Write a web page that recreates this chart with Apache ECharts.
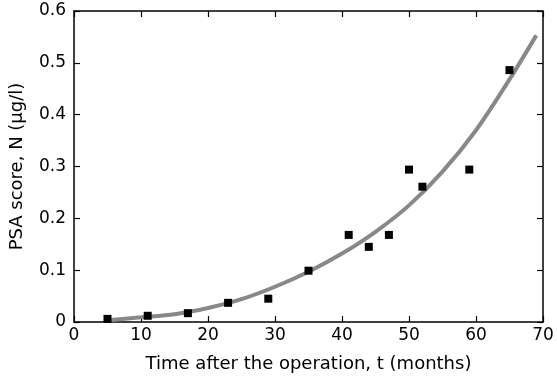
<!DOCTYPE html>
<html>
<head>
<meta charset="utf-8">
<script src="https://cdn.jsdelivr.net/npm/echarts@6/dist/echarts.min.js"></script>
<style>
  html, body { margin: 0; padding: 0; background: #fff; }
  #chart { width: 557px; height: 379px; }
</style>
</head>
<body>
<div id="chart"></div>
<script>
// measured PSA values (months, ug/l)
const months = [5, 11, 17, 23, 29, 35, 41, 44, 47, 50, 52, 59, 65];
const psa = [0.006, 0.012, 0.017, 0.037, 0.045, 0.099, 0.168, 0.145, 0.168, 0.294, 0.261, 0.294, 0.486];

// fitted curve
const fitT = [5.5, 10, 15, 20, 25, 30, 35, 40, 45, 50, 55, 60, 65, 69];
const fitN = [0.004, 0.009, 0.015, 0.027, 0.044, 0.068, 0.097, 0.132, 0.174, 0.225, 0.290, 0.370, 0.468, 0.553];

const xTicks = [0, 10, 20, 30, 40, 50, 60, 70];
const yTicks = [0, 0.1, 0.2, 0.3, 0.4, 0.5, 0.6];

const font = '"DejaVu Sans", sans-serif';
// onZero off, otherwise the top/right axes get pulled onto the origin
const frame = { show: true, onZero: false, lineStyle: { color: '#000', width: 1.5 } };
const ticks = { show: true, inside: true, length: 6, lineStyle: { color: '#000', width: 1.2 } };

const chart = echarts.init(document.getElementById('chart'), null, { renderer: 'canvas' });

chart.setOption({
  animation: false,
  backgroundColor: '#fff',
  grid: { left: 74, right: 14, top: 11, bottom: 57 },
  xAxis: [
    {
      type: 'value',
      min: xTicks[0],
      max: xTicks[xTicks.length - 1],
      interval: 10,
      name: 'Time after the operation, t (months)',
      nameLocation: 'middle',
      nameGap: 33,
      nameTextStyle: { color: '#000', fontFamily: font, fontSize: 18 },
      axisLine: frame,
      axisTick: ticks,
      axisLabel: { color: '#000', fontFamily: font, fontSize: 17, margin: 5 },
      splitLine: { show: false }
    },
    {
      type: 'value',
      position: 'top',
      min: 0, max: 70, interval: 10,
      axisLine: frame,
      axisTick: ticks,
      axisLabel: { show: false },
      splitLine: { show: false }
    }
  ],
  yAxis: [
    {
      type: 'value',
      min: yTicks[0],
      max: yTicks[yTicks.length - 1],
      interval: 0.1,
      name: 'PSA score, N (\u00b5g/l)',
      nameLocation: 'middle',
      nameGap: 48,
      nameTextStyle: { color: '#000', fontFamily: font, fontSize: 18 },
      axisLine: frame,
      axisTick: ticks,
      axisLabel: {
        color: '#000', fontFamily: font, fontSize: 17, margin: 8,
        formatter: v => (v === 0 ? '0' : v.toFixed(1))
      },
      splitLine: { show: false }
    },
    {
      type: 'value',
      position: 'right',
      min: 0, max: 0.6, interval: 0.1,
      axisLine: frame,
      axisTick: ticks,
      axisLabel: { show: false },
      splitLine: { show: false }
    }
  ],
  series: [
    {
      type: 'line',
      data: fitT.map((t, i) => [t, fitN[i]]),
      smooth: 0.3,
      showSymbol: false,
      lineStyle: { color: '#888', width: 4 },
      z: 2
    },
    {
      type: 'scatter',
      data: months.map((t, i) => [t, psa[i]]),
      symbol: 'rect',
      symbolSize: 8,
      itemStyle: { color: '#000', opacity: 1 },
      z: 3
    }
  ]
});
</script>
</body>
</html>
